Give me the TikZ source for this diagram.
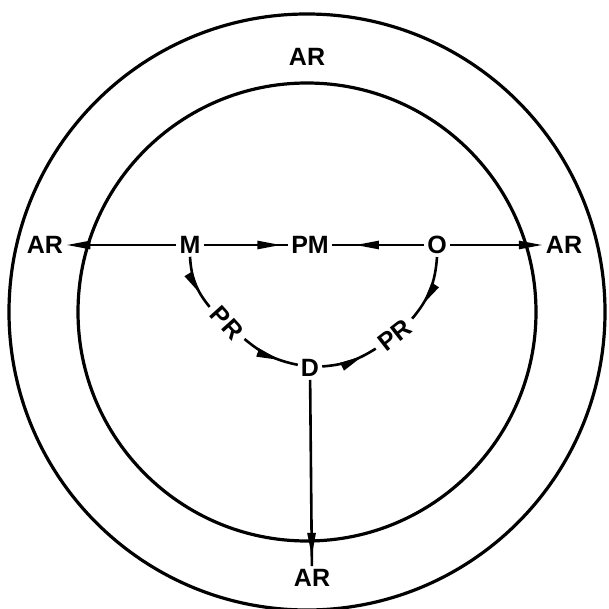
\documentclass[tikz,border=0pt]{standalone}
\usepackage{fontspec}
\setmainfont{Liberation Sans}
\usetikzlibrary{arrows.meta,decorations.markings}
\tikzset{
  lbl/.style={font=\fontsize{25}{25}\selectfont\bfseries, inner sep=3pt},
  prlbl/.style={lbl, inner sep=6pt},
  ring/.style={line width=3.2pt},
  conn/.style={line width=2.6pt},
  longtip/.tip={Triangle[length=24pt,width=8pt]},
  midarrow/.style={postaction={decorate}, decoration={markings, mark=at position #1 with {\arrow{longtip}}}}
}
\begin{document}
\begin{tikzpicture}[x=1pt,y=-1pt]
\useasboundingbox (0,0) rectangle (609,609);
\draw[ring] (307,312) circle[radius=298];
\draw[ring] (307,312) circle[radius=229];
\node[lbl] (ARt) at (307,57) {AR};
\node[lbl] (ARl) at (45,245) {AR};
\node[lbl] (M) at (190,245) {M};
\node[lbl] (PM) at (310,245) {PM};
\node[lbl] (O) at (437,245) {O};
\node[lbl] (ARr) at (564,245) {AR};
\node[prlbl, rotate=-48] (PRl) at (227,323) {PR};
\node[prlbl, rotate=38] (PRr) at (395,335) {PR};
\node[lbl] (D) at (310,368) {D};
\node[lbl] (ARb) at (312,578) {AR};
\draw[conn, -longtip] (M) -- (ARl);
\draw[conn, -longtip] (O) -- (ARr);
\draw[conn, midarrow=0.92] (M) -- (PM);
\draw[conn, midarrow=0.75] (O) -- (PM);
\draw[conn, midarrow=0.95] (D) -- (ARb);
\draw[conn, midarrow=0.72] (M.south) to[bend right=18] (PRl);
\draw[conn, midarrow=0.7] (PRl) to[bend right=14] (D);
\draw[conn, midarrow=0.75] (D) to[bend right=14] (PRr);
\draw[conn, midarrow=0.75] (O.south) to[bend left=18] (PRr);
\end{tikzpicture}
\end{document}
